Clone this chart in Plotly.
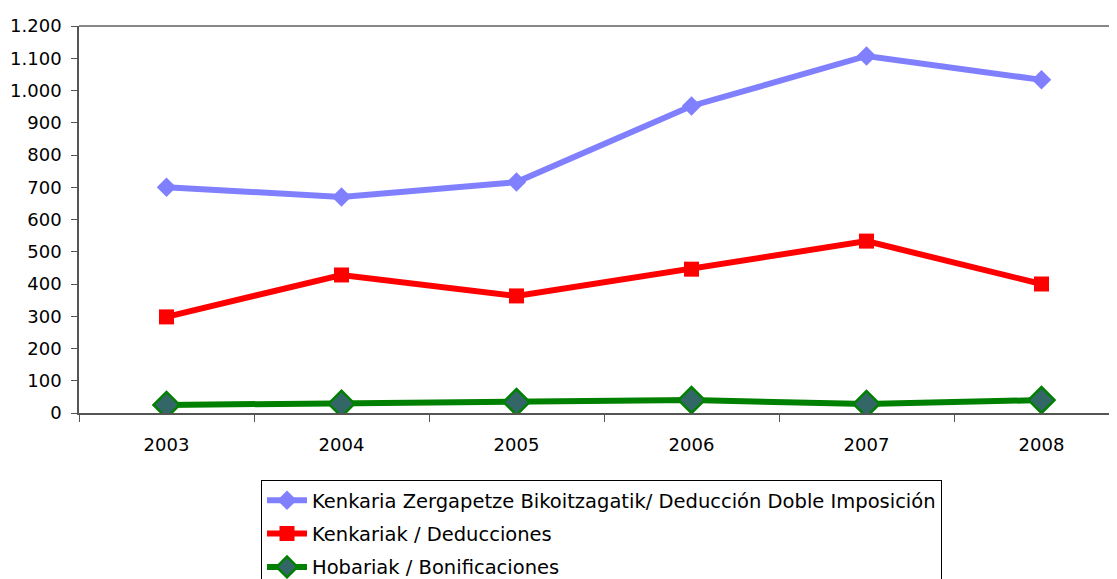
import plotly.graph_objects as go

years = ["2003", "2004", "2005", "2006", "2007", "2008"]
doble_imposicion = [700, 670, 716, 952, 1107, 1033]
deducciones = [298, 428, 363, 446, 533, 400]
bonificaciones = [25, 29, 34, 40, 28, 40]

names = [
    "Kenkaria Zergapetze Bikoitzagatik/ Deducción Doble Imposición",
    "Kenkariak / Deducciones",
    "Hobariak / Bonificaciones",
]

# the page adds an 8px body margin, so lay out in shifted coordinates
OFF = 8
W, H = 1117 - OFF, 579 - OFF
ml, mr, mt, mb = 79 - OFF, 0, 26 - OFF, 579 - 413
pw, ph = W - ml - mr, H - mt - mb

fig = go.Figure()
fig.add_trace(go.Scatter(
    x=years, y=doble_imposicion, name=names[0], mode="lines+markers",
    line=dict(color="#8080FF", width=6),
    marker=dict(symbol="diamond", size=15, color="#8080FF"),
    legendgroup="a",
))
fig.add_trace(go.Scatter(
    x=years, y=deducciones, name=names[1], mode="lines+markers",
    line=dict(color="#FF0000", width=6),
    marker=dict(symbol="square", size=15, color="#FF0000"),
    legendgroup="b",
))
fig.add_trace(go.Scatter(
    x=years, y=bonificaciones, name=names[2], mode="lines+markers",
    line=dict(color="#008000", width=6),
    marker=dict(symbol="diamond", size=20, color="#336666",
                line=dict(color="#008000", width=2.5)),
    legendgroup="c",
))

# category axis extends beyond the right edge of the picture
right_clip = 5.5 - (1129 - 1117) / 175.0

fig.update_layout(
    width=W, height=H,
    margin=dict(l=ml, r=mr, t=mt, b=mb, pad=0, autoexpand=False),
    paper_bgcolor="white", plot_bgcolor="white",
    separators=",.",
    font=dict(family="DejaVu Sans", size=18, color="black"),
    showlegend=True,
    legend=dict(
        xref="container", yref="container",
        x=(261 - OFF) / W, xanchor="left",
        y=1 - (480 - OFF) / H, yanchor="top",
        bgcolor="white", bordercolor="black", borderwidth=1,
        font=dict(family="DejaVu Sans", size=19.5, color="black"),
        tracegroupgap=5,
        itemwidth=40,
    ),
    xaxis=dict(
        type="category", range=[-0.5, right_clip], automargin=False,
        showline=True, linecolor="#555555", linewidth=1.5,
        ticks="outside", tickson="boundaries", ticklen=7, tickcolor="#555555",
        showgrid=False, zeroline=False,
        ticklabelstandoff=15,
        tickfont=dict(family="DejaVu Sans", size=18),
    ),
    yaxis=dict(
        range=[0, 1200], dtick=100, tick0=0, automargin=False,
        tickformat=",d",
        showline=True, linecolor="#555555", linewidth=1.5,
        ticks="outside", ticklen=6, tickcolor="#555555",
        showgrid=False, zeroline=False,
        ticklabelstandoff=6,
        tickfont=dict(family="DejaVu Sans", size=18),
    ),
    shapes=[dict(type="line", xref="paper", yref="paper", x0=0, x1=1, y0=1, y1=1,
                 line=dict(color="#888888", width=2))],
)

fig.write_html("out.html")
